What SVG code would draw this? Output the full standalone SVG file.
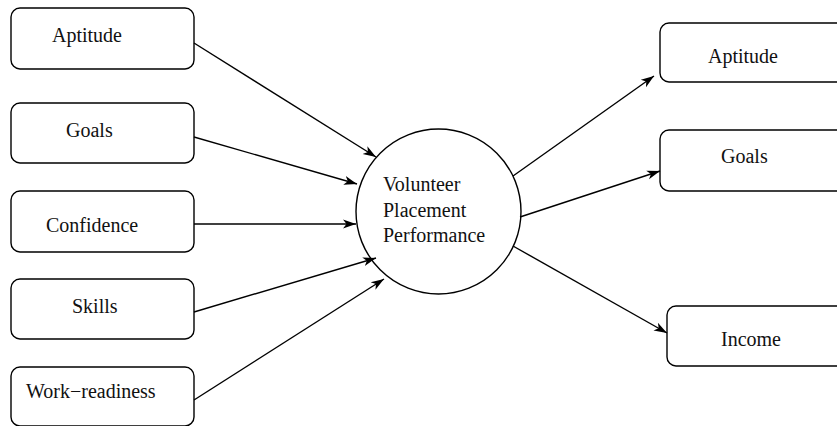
<svg xmlns="http://www.w3.org/2000/svg" width="837" height="426" viewBox="0 0 837 426">
<style>
.box{fill:#fff;stroke:#000;stroke-width:1.4}
.lbl{font-family:"Liberation Serif","Times New Roman",serif;font-size:20px;fill:#111}
.edge{stroke:#000;stroke-width:1.4;fill:none;marker-end:url(#ah)}
</style>
<defs>
<marker id="ah" markerUnits="userSpaceOnUse" viewBox="-13 -6 14 12" refX="0" refY="0" markerWidth="14" markerHeight="12" orient="auto">
<path d="M0,0 L-13,-4.5 L-9.5,0 L-13,4.5 Z" fill="#000"/>
</marker>
</defs>
<g id="in-aptitude"><rect class="box" x="11" y="8" width="183" height="61" rx="9"/><text class="lbl" x="52" y="42">Aptitude</text></g>
<g id="in-goals"><rect class="box" x="11" y="103" width="183" height="60" rx="9"/><text class="lbl" x="66" y="137">Goals</text></g>
<g id="in-confidence"><rect class="box" x="11" y="191" width="183" height="61" rx="9"/><text class="lbl" x="46" y="232">Confidence</text></g>
<g id="in-skills"><rect class="box" x="11" y="279" width="183" height="60" rx="9"/><text class="lbl" x="72" y="313">Skills</text></g>
<g id="in-work"><rect class="box" x="11" y="367" width="183" height="59" rx="9"/><text class="lbl" x="26" y="398">Work−readiness</text></g>
<g id="center"><circle cx="438.5" cy="211.5" r="82.5" fill="#fff" stroke="#000" stroke-width="1.4"/><text class="lbl" x="383" y="191">Volunteer</text><text class="lbl" x="383" y="217">Placement</text><text class="lbl" x="383" y="242">Performance</text></g>
<g id="out-aptitude"><rect class="box" x="660" y="23" width="186" height="59" rx="9"/><text class="lbl" x="708" y="63">Aptitude</text></g>
<g id="out-goals"><rect class="box" x="660" y="130" width="186" height="61" rx="9"/><text class="lbl" x="721" y="163">Goals</text></g>
<g id="out-income"><rect class="box" x="667" y="306" width="186" height="60" rx="9"/><text class="lbl" x="721" y="346">Income</text></g>
<g id="connectors">
<line class="edge" x1="194" y1="43" x2="376" y2="157"/>
<line class="edge" x1="194" y1="137" x2="357" y2="184"/>
<line class="edge" x1="194" y1="224" x2="356" y2="224"/>
<line class="edge" x1="194" y1="312" x2="376" y2="258"/>
<line class="edge" x1="194" y1="400" x2="384" y2="279"/>
<line class="edge" x1="513" y1="176" x2="654" y2="76"/>
<line class="edge" x1="520" y1="217" x2="660" y2="171"/>
<line class="edge" x1="513" y1="246" x2="667" y2="333"/>
</g>
</svg>
